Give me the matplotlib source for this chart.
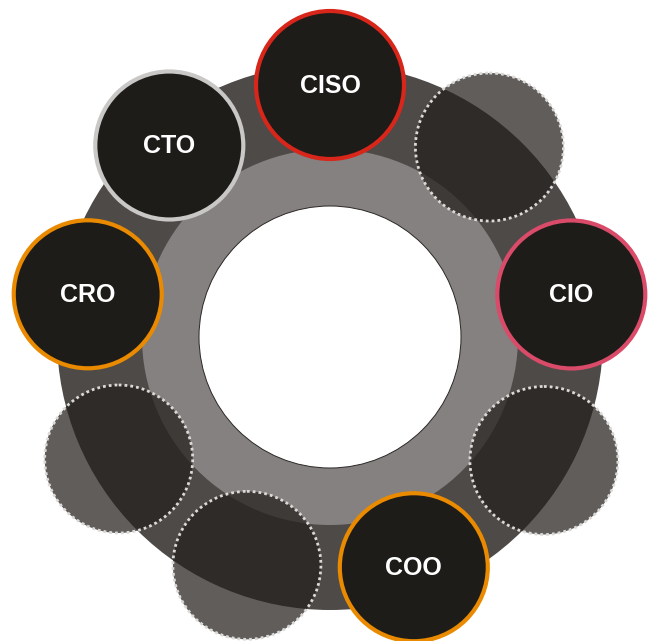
import numpy as np
import matplotlib
matplotlib.use('Agg')
import matplotlib.pyplot as plt
from matplotlib.patches import Circle

# Role circles placed around the ring (angle in degrees, 0 = right, ccw)
ROLES = ['CISO', 'CIO', 'COO', 'CRO', 'CTO']
ROLE_ANGLES = [90, 10, -70, 170, 130]
ROLE_ORBITS = [252, 245, 245, 246, 250]
ROLE_EDGES = ['#d8261b', '#d94b69', '#e98a00', '#e98a00', '#c9c8c7']
EMPTY_ANGLES = [50, -30, -110, -150]
EMPTY_ORBITS = [248, 247, 243, 244]

CX, CY = 330, 337
R_OUTER, R_MID, R_INNER = 273, 188, 131
R_NODE = 74


def pos(a, r):
  t = np.radians(a)
  return CX + r * np.cos(t), CY - r * np.sin(t)


def main():
  fig = plt.figure(figsize=(6.53, 6.41), dpi=100)
  ax = fig.add_axes([0, 0, 1, 1])
  ax.set_xlim(0, 653)
  ax.set_ylim(641, 0)
  ax.set_aspect('equal')
  ax.axis('off')

  ax.add_patch(Circle((CX, CY), R_OUTER, fc='#4e4a48', ec='none', zorder=1))
  ax.add_patch(Circle((CX, CY), R_MID, fc='#858180', ec='none', zorder=2))
  ax.add_patch(Circle((CX, CY), R_INNER, fc='white', ec='#2a2725', lw=0.7, zorder=3))

  # empty slots: translucent dark discs with dotted rims
  for a, r in zip(EMPTY_ANGLES, EMPTY_ORBITS):
    x, y = pos(a, r)
    ax.add_patch(Circle((x, y), R_NODE, fc='#231f1c', alpha=0.72, ec='none', zorder=4))
    ax.add_patch(Circle((x, y), R_NODE, fc='none', ec='#dcdad8', lw=2.0,
                        linestyle=(0, (1.0, 1.1)), zorder=5))

  for name, a, r, ec in zip(ROLES, ROLE_ANGLES, ROLE_ORBITS, ROLE_EDGES):
    x, y = pos(a, r)
    ax.add_patch(Circle((x, y), R_NODE, fc='#1e1c19', ec=ec, lw=3.0, zorder=6))
    ax.text(x, y + 1, name, color='white', fontsize=18, fontweight='bold',
            family='Liberation Sans', ha='center', va='center', zorder=7)

  fig.savefig('out.png', dpi=100)


if __name__ == '__main__':
  main()
